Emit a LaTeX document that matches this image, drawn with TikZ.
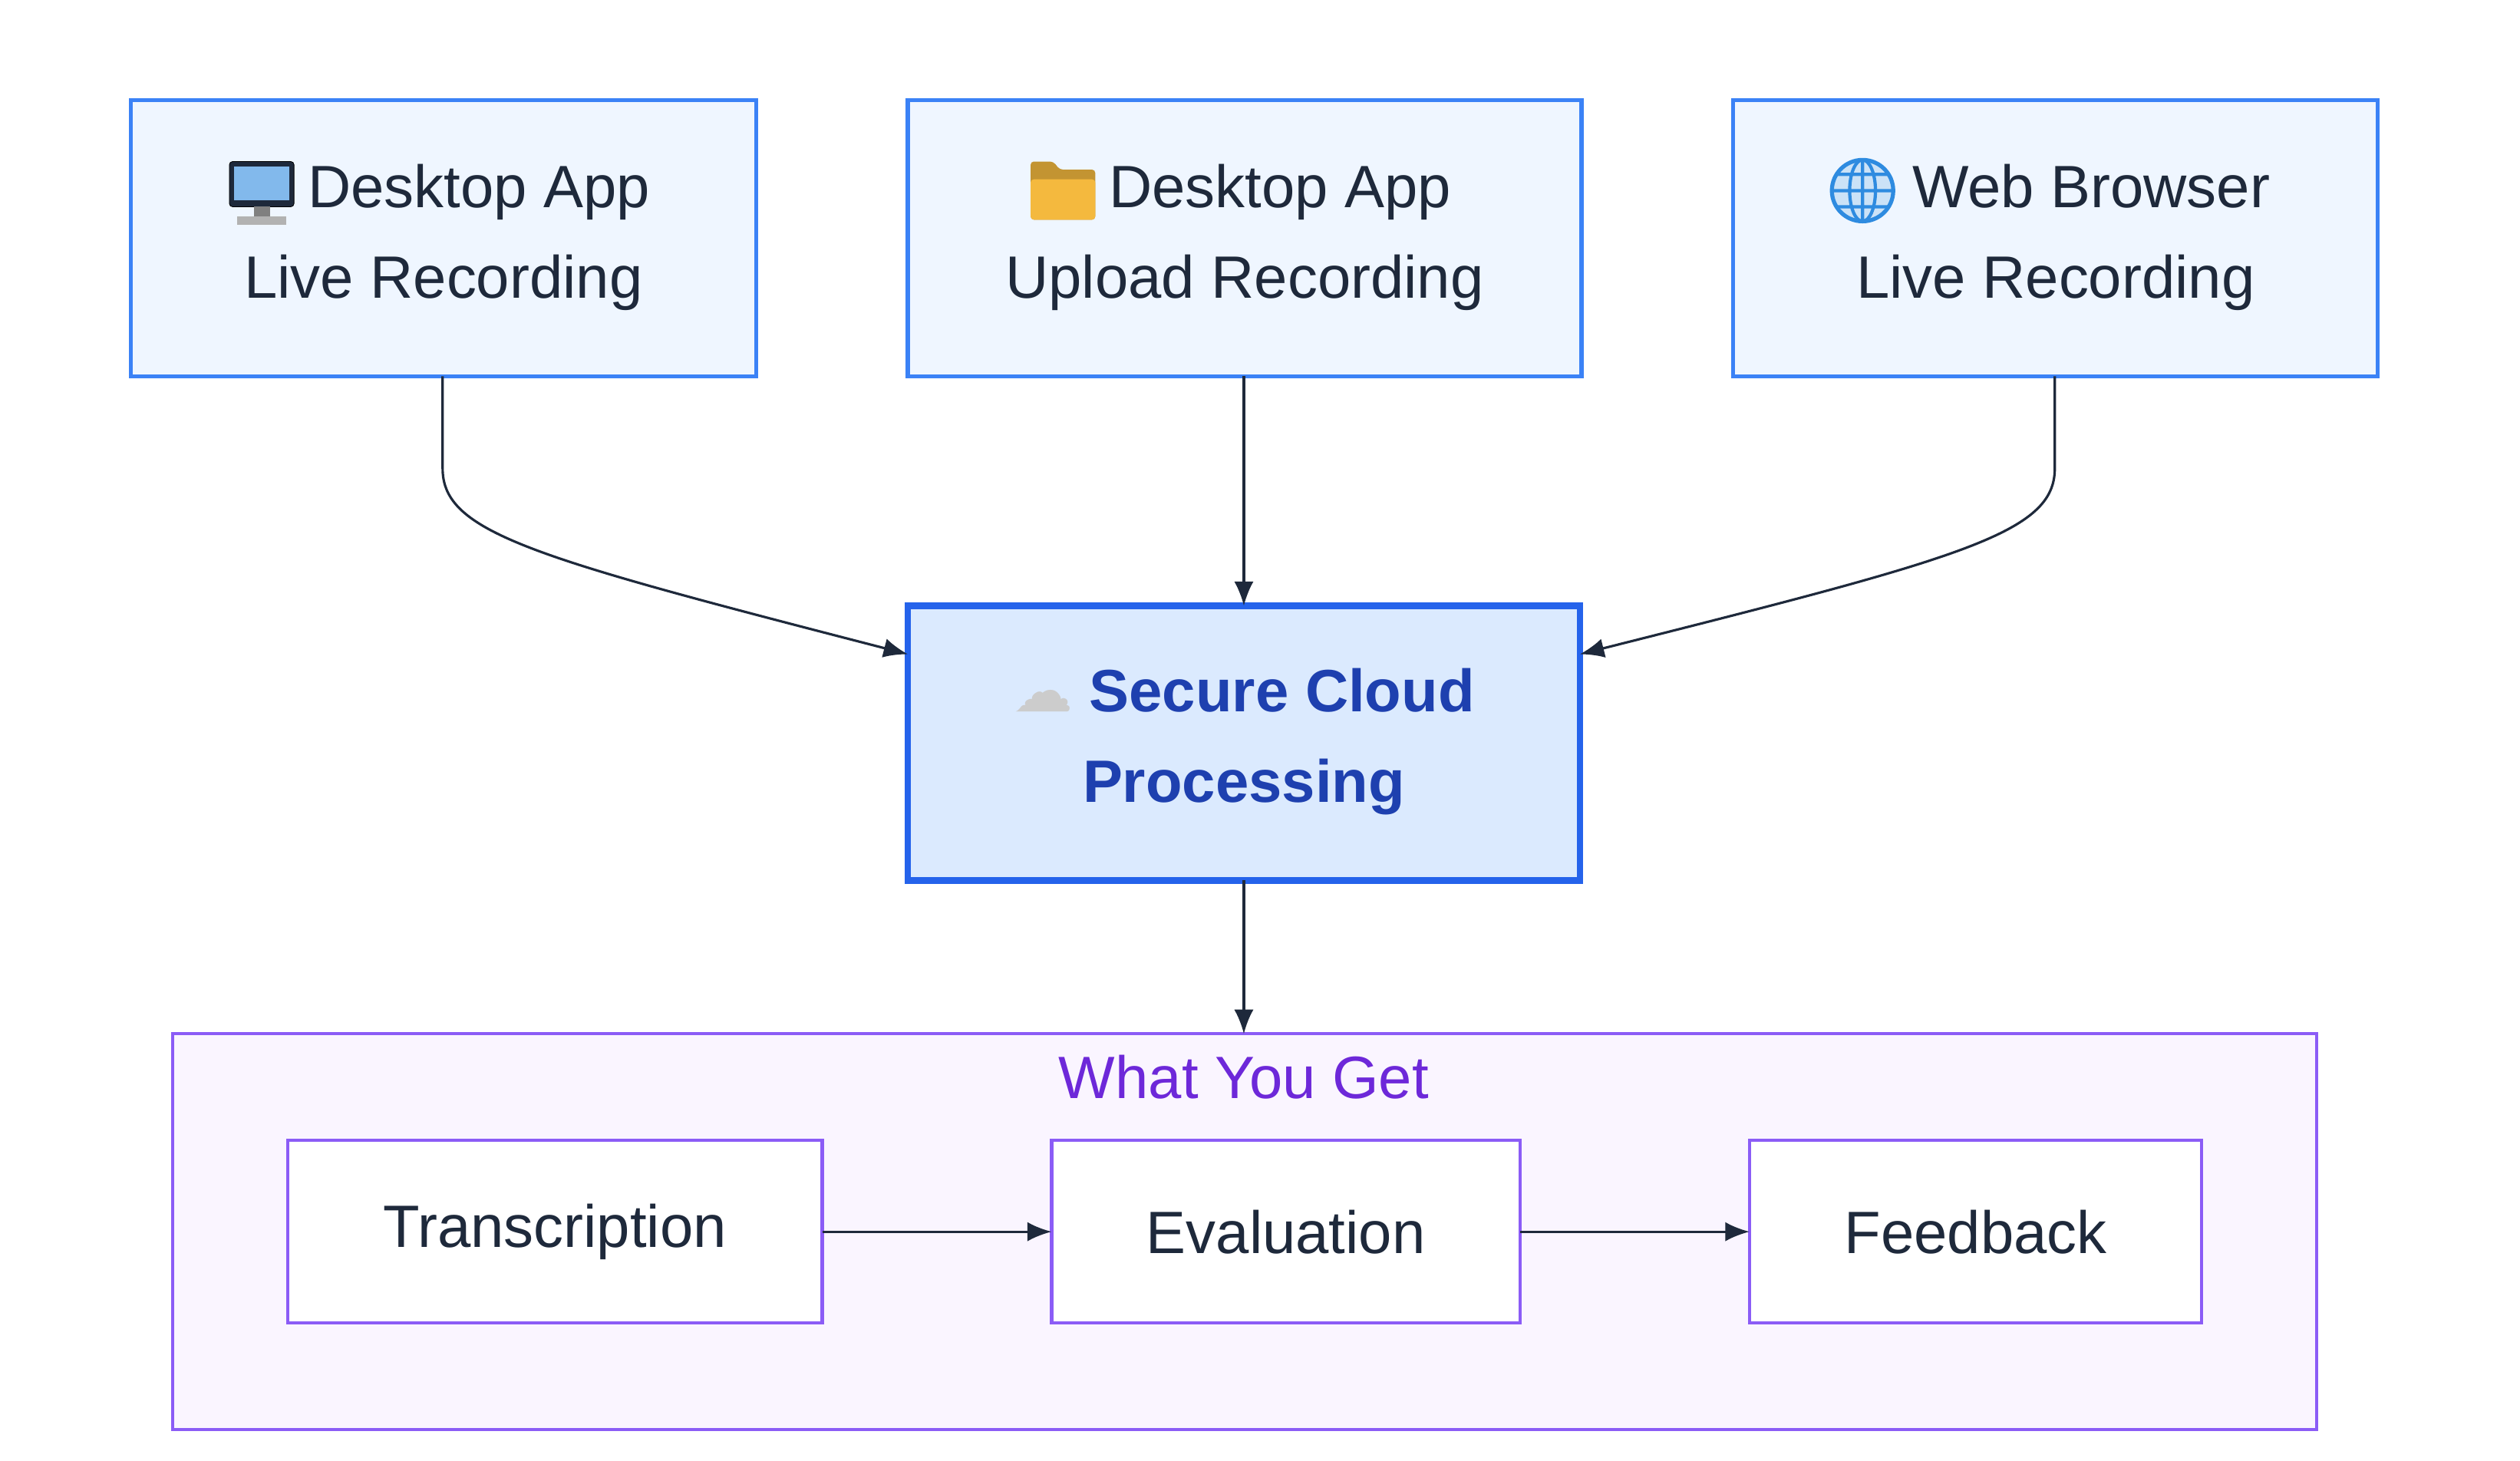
\documentclass[tikz,border=0pt]{standalone}
\usepackage{fontspec}
\setmainfont{Liberation Sans}
\newfontfamily\emo{DejaVu Sans}
\usetikzlibrary{arrows.meta}
\definecolor{srcline}{HTML}{3B82F6}
\definecolor{srcfill}{HTML}{EFF6FF}
\definecolor{cloudline}{HTML}{2563EB}
\definecolor{cloudfill}{HTML}{DBEAFE}
\definecolor{cloudtext}{HTML}{1E40AF}
\definecolor{getline}{HTML}{8B5CF6}
\definecolor{getfill}{HTML}{FAF5FF}
\definecolor{gettext}{HTML}{6D28D9}
\definecolor{ink}{HTML}{1E293B}
\definecolor{folder}{HTML}{F4B93E}
\definecolor{globe}{HTML}{2E8BE0}
\tikzset{
  src/.style={draw=srcline, fill=srcfill, line width=2.5pt},
  step box/.style={draw=getline, fill=white, line width=2pt},
  flow/.style={draw=ink, line width=1.5pt, -{Latex[length=15pt,width=12pt]}},
  lbl/.style={text=ink, align=center, font=\fontsize{37}{56}\selectfont}
}
\def\gap{\hspace{44pt}}
\begin{document}
\begin{tikzpicture}[x=1pt,y=-1pt]
   \useasboundingbox (0,0) rectangle (1560,904);
   % sources
   \draw[src] (81,62) rectangle (468,233);
   \draw[src] (562,62) rectangle (979,233);
   \draw[src] (1073,62) rectangle (1472,233);
   \node[lbl] (live) at (274.5,147) {\gap Desktop App\\Live Recording};
   \node[lbl] (upload) at (770.5,147) {\gap Desktop App\\Upload Recording};
   \node[lbl] (web) at (1272.5,147) {\gap Web Browser\\Live Recording};
   % icons
   \draw[fill=ink, rounded corners=2pt] (142,100) rectangle (182,128);
   \fill[globe!60] (145,103) rectangle (179,124);
   \fill[gray] (157,128) rectangle (167,134);
   \fill[gray!60] (147,134) rectangle (177,139);
   \fill[folder!80!black, rounded corners=2pt] (638,100) -- (652,100) -- (656,105) -- (678,105) -- (678,136) -- (638,136) -- cycle;
   \fill[folder, rounded corners=2pt] (638,111) rectangle (678,136);
   \draw[globe, fill=globe!25, line width=2.5pt] (1153,118) circle (19);
   \draw[globe, line width=2pt] (1153,99) -- (1153,137) (1134,118) -- (1172,118)
      (1153,118) ellipse (8 and 19) (1137,108) -- (1169,108) (1137,128) -- (1169,128);
   % cloud
   \draw[draw=cloudline, fill=cloudfill, line width=4pt] (562,375) rectangle (978,545);
   \node[lbl, text=cloudtext, font=\bfseries\fontsize{37}{56}\selectfont] (cloud) at (770,459)
      {{\emo\mdseries\color{gray!40} ☁} Secure Cloud\\Processing};
   % what you get
   \draw[draw=getline, fill=getfill, line width=2pt] (107,640) rectangle (1434,885);
   \node[text=gettext, font=\fontsize{37}{44}\selectfont] (title) at (770,667) {What You Get};
   \draw[step box] (178,706) rectangle (509,819);
   \draw[step box] (651,706) rectangle (941,819);
   \draw[step box] (1083,706) rectangle (1363,819);
   \node[lbl] (trans) at (343.5,762.5) {Transcription};
   \node[lbl] (eval) at (796,762.5) {Evaluation};
   \node[lbl] (feed) at (1223,762.5) {Feedback};
   \coordinate (liveS) at (274,233);
   \coordinate (uploadS) at (770,233);
   \coordinate (webS) at (1272,233);
   \coordinate (cloudL) at (562,405);
   \coordinate (cloudT) at (770,375);
   \coordinate (cloudR) at (978,405);
   \coordinate (cloudB) at (770,545);
   \coordinate (getT) at (770,640);
   \coordinate (transR) at (509,762.5);
   \coordinate (evalL) at (651,762.5);
   \coordinate (evalR) at (941,762.5);
   \coordinate (feedL) at (1083,762.5);
   \draw[flow] (liveS) -- (274,290) .. controls (274,330) and (330,345) .. (cloudL);
   \draw[flow] (uploadS) -- (cloudT);
   \draw[flow] (webS) -- (1272,290) .. controls (1272,330) and (1216,345) .. (cloudR);
   \draw[flow] (cloudB) -- (getT);
   \draw[flow] (transR) -- (evalL);
   \draw[flow] (evalR) -- (feedL);
\end{tikzpicture}
\end{document}
